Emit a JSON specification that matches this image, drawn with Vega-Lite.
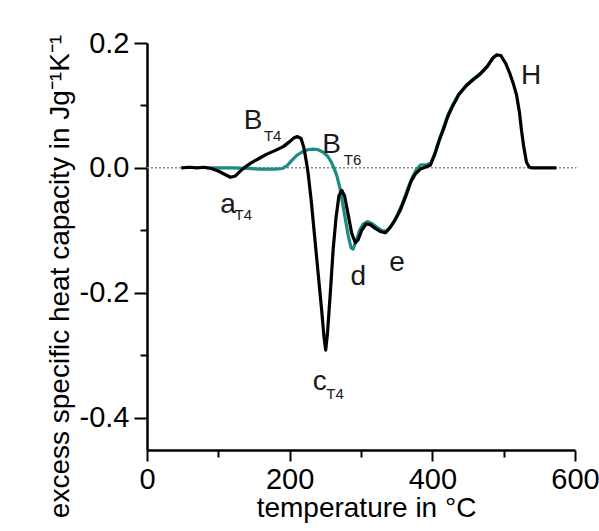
{
  "$schema": "https://vega.github.io/schema/vega-lite/v6.json",
  "width": 428,
  "height": 407,
  "autosize": {"type": "none"},
  "padding": {"left": 147, "top": 43, "right": 24, "bottom": 81},
  "background": "white",
  "config": {"view": {"stroke": null}},
  "datasets": {
    "zero": [{"T": 0, "v": 0}, {"T": 602, "v": 0}],
    "t6": [
      {"T": 83, "v": 0}, {"T": 100, "v": 0}, {"T": 120, "v": 0}, {"T": 140, "v": -0.001},
      {"T": 160, "v": -0.002}, {"T": 180, "v": -0.002}, {"T": 190, "v": -0.001}, {"T": 196, "v": 0.003},
      {"T": 203, "v": 0.012}, {"T": 210, "v": 0.02}, {"T": 217, "v": 0.025}, {"T": 225, "v": 0.029},
      {"T": 233, "v": 0.03}, {"T": 240, "v": 0.029}, {"T": 247, "v": 0.025}, {"T": 253, "v": 0.019},
      {"T": 258, "v": 0.01}, {"T": 262, "v": 0.0}, {"T": 266, "v": -0.012}, {"T": 270, "v": -0.03},
      {"T": 274, "v": -0.055}, {"T": 278, "v": -0.082}, {"T": 282, "v": -0.108}, {"T": 286, "v": -0.128},
      {"T": 289, "v": -0.13}, {"T": 293, "v": -0.118}, {"T": 298, "v": -0.1}, {"T": 303, "v": -0.09},
      {"T": 309, "v": -0.086}, {"T": 315, "v": -0.089}, {"T": 322, "v": -0.095}, {"T": 330, "v": -0.101},
      {"T": 336, "v": -0.101}, {"T": 343, "v": -0.092}, {"T": 350, "v": -0.078}, {"T": 358, "v": -0.057},
      {"T": 365, "v": -0.035}, {"T": 372, "v": -0.015}, {"T": 378, "v": -0.002}, {"T": 384, "v": 0.005},
      {"T": 392, "v": 0.005}, {"T": 398, "v": 0.008}, {"T": 404, "v": 0.025}, {"T": 410, "v": 0.046},
      {"T": 415, "v": 0.062}, {"T": 422, "v": 0.085}, {"T": 429, "v": 0.102}, {"T": 437, "v": 0.118},
      {"T": 448, "v": 0.133}, {"T": 458, "v": 0.143}, {"T": 467, "v": 0.151}, {"T": 477, "v": 0.163},
      {"T": 485, "v": 0.176}, {"T": 490, "v": 0.18}
    ],
    "t4": [
      {"T": 48, "v": 0}, {"T": 60, "v": 0.001}, {"T": 70, "v": 0}, {"T": 80, "v": 0.001},
      {"T": 90, "v": -0.001}, {"T": 100, "v": -0.005}, {"T": 110, "v": -0.011}, {"T": 117, "v": -0.015},
      {"T": 124, "v": -0.013}, {"T": 130, "v": -0.006}, {"T": 136, "v": 0}, {"T": 146, "v": 0.008},
      {"T": 157, "v": 0.015}, {"T": 168, "v": 0.022}, {"T": 180, "v": 0.028}, {"T": 191, "v": 0.034},
      {"T": 200, "v": 0.042}, {"T": 206, "v": 0.048}, {"T": 211, "v": 0.05}, {"T": 216, "v": 0.047},
      {"T": 220, "v": 0.032}, {"T": 224, "v": 0.006}, {"T": 226, "v": -0.01}, {"T": 230, "v": -0.05},
      {"T": 235, "v": -0.11}, {"T": 240, "v": -0.17}, {"T": 245, "v": -0.23}, {"T": 248, "v": -0.27},
      {"T": 250.5, "v": -0.292}, {"T": 253, "v": -0.265}, {"T": 257, "v": -0.2}, {"T": 261, "v": -0.13},
      {"T": 265, "v": -0.08}, {"T": 269, "v": -0.045}, {"T": 273, "v": -0.036}, {"T": 277, "v": -0.045},
      {"T": 282, "v": -0.075}, {"T": 287, "v": -0.105}, {"T": 292, "v": -0.12}, {"T": 296, "v": -0.115},
      {"T": 301, "v": -0.1}, {"T": 307, "v": -0.09}, {"T": 313, "v": -0.091}, {"T": 320, "v": -0.097},
      {"T": 327, "v": -0.102}, {"T": 334, "v": -0.104}, {"T": 340, "v": -0.097}, {"T": 347, "v": -0.085},
      {"T": 355, "v": -0.068}, {"T": 363, "v": -0.045}, {"T": 370, "v": -0.022}, {"T": 376, "v": -0.01},
      {"T": 383, "v": -0.002}, {"T": 390, "v": 0.001}, {"T": 397, "v": 0.004}, {"T": 403, "v": 0.02},
      {"T": 410, "v": 0.045}, {"T": 415, "v": 0.06}, {"T": 422, "v": 0.083}, {"T": 429, "v": 0.1},
      {"T": 437, "v": 0.117}, {"T": 448, "v": 0.132}, {"T": 458, "v": 0.142}, {"T": 467, "v": 0.15},
      {"T": 477, "v": 0.162}, {"T": 485, "v": 0.176}, {"T": 490, "v": 0.181}, {"T": 496, "v": 0.18},
      {"T": 503, "v": 0.167}, {"T": 509, "v": 0.15}, {"T": 514, "v": 0.133}, {"T": 518, "v": 0.117},
      {"T": 522, "v": 0.09}, {"T": 525, "v": 0.06}, {"T": 528, "v": 0.035}, {"T": 532, "v": 0.009},
      {"T": 536, "v": 0.001}, {"T": 540, "v": 0}, {"T": 560, "v": 0}, {"T": 574, "v": 0}
    ],
    "labels": [
      {"T": 148.9, "v": 0.0624, "text": "B"},
      {"T": 113.6, "v": -0.0731, "text": "a"},
      {"T": 258.9, "v": 0.0245, "text": "B"},
      {"T": 296.2, "v": -0.1883, "text": "d"},
      {"T": 350.5, "v": -0.1659, "text": "e"},
      {"T": 242.1, "v": -0.3563, "text": "c"},
      {"T": 538.3, "v": 0.1344, "text": "H"}
    ],
    "subs": [
      {"T": 176.2, "v": 0.0437, "text": "T4"},
      {"T": 135.0, "v": -0.0832, "text": "T4"},
      {"T": 288.1, "v": 0.0053, "text": "T6"},
      {"T": 263.6, "v": -0.3696, "text": "T4"}
    ]
  },
  "resolve": {"axis": {"x": "independent", "y": "independent"}},
  "layer": [
    {
      "data": {"name": "zero"},
      "mark": {"type": "line", "stroke": "#8c8c8c", "strokeWidth": 1.5, "strokeDash": [2, 2], "clip": false},
      "encoding": {
        "x": {"field": "T", "type": "quantitative", "scale": {"domain": [0, 600], "nice": false, "zero": false},
          "axis": {"orient": "bottom", "values": [100, 300, 500], "labels": false, "domain": false, "grid": false,
            "tickSize": 7, "tickWidth": 2, "tickColor": "black", "title": null}},
        "y": {"field": "v", "type": "quantitative", "scale": {"domain": [-0.452, 0.2], "nice": false, "zero": false},
          "axis": {"orient": "left", "values": [0.1, -0.1, -0.3], "labels": false, "domain": false, "grid": false,
            "tickSize": 7, "tickWidth": 2, "tickColor": "black", "title": null}}
      }
    },
    {
      "data": {"name": "t6"},
      "mark": {"type": "line", "stroke": "#1b8b86", "strokeWidth": 3.2, "strokeJoin": "round"},
      "encoding": {
        "x": {"field": "T", "type": "quantitative", "axis": null},
        "y": {"field": "v", "type": "quantitative", "axis": null}
      }
    },
    {
      "data": {"name": "t4"},
      "mark": {"type": "line", "stroke": "black", "strokeWidth": 3.2, "strokeJoin": "round"},
      "encoding": {
        "x": {"field": "T", "type": "quantitative",
          "axis": {"orient": "bottom", "values": [0, 200, 400, 600], "grid": false, "format": "d",
            "domainColor": "black", "domainWidth": 2.5, "tickColor": "black", "tickWidth": 2, "tickSize": 11,
            "labelFont": "Liberation Sans", "labelFontSize": 29, "labelColor": "black", "labelPadding": 4,
            "labelFlush": false, "labelOverlap": false,
            "title": "temperature in °C", "titleFont": "Liberation Sans", "titleFontSize": 28,
            "titleFontWeight": "normal", "titleColor": "black", "titleX": 219, "titleY": 66, "titleBaseline": "alphabetic"}},
        "y": {"field": "v", "type": "quantitative",
          "axis": {"orient": "left", "values": [-0.4, -0.2, 0, 0.2], "grid": false,
            "labelExpr": "replace(format(datum.value, '.1f'), '\u2212', '-')",
            "domainColor": "black", "domainWidth": 2.5, "tickColor": "black", "tickWidth": 2, "tickSize": 13,
            "labelFont": "Liberation Sans", "labelFontSize": 29, "labelColor": "black", "labelPadding": 5,
            "labelFlush": false, "labelOverlap": false,
            "title": "excess specific heat capacity in Jg⁻¹K⁻¹", "titleFont": "Liberation Sans", "titleFontSize": 28,
            "titleFontWeight": "normal", "titleColor": "black", "titleX": -79, "titleY": 233, "titleAngle": -90,
            "titleBaseline": "alphabetic", "titleAlign": "center"}}
      }
    },
    {
      "data": {"name": "labels"},
      "mark": {"type": "text", "font": "Liberation Sans", "fontSize": 28, "color": "#1a1a1a", "align": "center", "baseline": "alphabetic"},
      "encoding": {
        "x": {"field": "T", "type": "quantitative", "axis": null},
        "y": {"field": "v", "type": "quantitative", "axis": null},
        "text": {"field": "text"}
      }
    },
    {
      "data": {"name": "subs"},
      "mark": {"type": "text", "font": "Liberation Sans", "fontSize": 15, "color": "#1a1a1a", "align": "center", "baseline": "alphabetic"},
      "encoding": {
        "x": {"field": "T", "type": "quantitative", "axis": null},
        "y": {"field": "v", "type": "quantitative", "axis": null},
        "text": {"field": "text"}
      }
    }
  ]
}
